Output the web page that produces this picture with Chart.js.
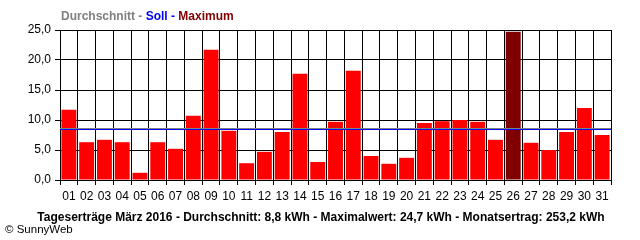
<!DOCTYPE html>
<html>
<head>
<meta charset="utf-8">
<script src="https://cdn.jsdelivr.net/npm/chart.js@4.4.1/dist/chart.umd.min.js"></script>
<style>
    body { margin: 0; background: #fff; }
    #wrap { position: relative; width: 640px; height: 240px; overflow: hidden; }
    #chart { position: absolute; left: 0; top: 0; }
    .txt { position: absolute; white-space: nowrap; font-family: "Liberation Sans", Arial, sans-serif; }
    #legend { left: 61px; top: 9px; font-size: 12px; font-weight: bold; line-height: 14px; }
    #caption { left: 0; width: 642px; text-align: center; top: 210px; font-size: 12px; font-weight: bold; line-height: 15px; }
    #copy { left: 5px; top: 222px; font-size: 11.5px; line-height: 14px; }
</style>
</head>
<body>
<div id="wrap">
    <canvas id="chart" width="640" height="240"></canvas>
    <div class="txt" id="legend"><span style="color:#808080">Durchschnitt - </span><span style="color:#0000ff">Soll - </span><span style="color:#800000">Maximum</span></div>
    <div class="txt" id="caption">Tageserträge März 2016 - Durchschnitt: 8,8 kWh - Maximalwert: 24,7 kWh - Monatsertrag: 253,2 kWh</div>
    <div class="txt" id="copy">© SunnyWeb</div>
</div>
<script>
const days = ["01", "02", "03", "04", "05", "06", "07", "08", "09", "10",
    "11", "12", "13", "14", "15", "16", "17", "18", "19", "20",
    "21", "22", "23", "24", "25", "26", "27", "28", "29", "30", "31"];

// kWh per day
const yields = [11.7, 6.3, 6.7, 6.3, 1.2, 6.3, 5.2, 10.7, 21.7, 8.2,
    2.8, 4.7, 8.0, 17.7, 3.0, 9.7, 18.2, 4.0, 2.7, 3.7,
    9.5, 9.8, 10.0, 9.7, 6.7, 24.7, 6.2, 5.0, 8.0, 12.0, 7.5];

const averageLine = 8.6;  // grey (Durchschnitt)
const targetLine = 8.4;   // blue (Soll)

const yMin = 0;
const yMax = 25;
const yStep = 5;

const maxValue = Math.max(...yields);
const barColors = yields.map(v => v === maxValue ? "#800000" : "#ff0000");

// horizontal reference lines across the plot
const refLines = {
    id: "refLines",
    afterDatasetsDraw(chart) {
        const ctx = chart.ctx;
        const area = chart.chartArea;
        const y = chart.scales.y;
        const lines = [
            { value: averageLine, color: "#808080" },
            { value: targetLine, color: "#0000ff" }
        ];
        ctx.save();
        ctx.lineWidth = 1;
        lines.forEach(l => {
            const py = Math.floor(y.getPixelForValue(l.value)) + 0.5;
            ctx.strokeStyle = l.color;
            ctx.beginPath();
            ctx.moveTo(area.left, py);
            ctx.lineTo(area.right, py);
            ctx.stroke();
        });
        ctx.restore();
    }
};

new Chart(document.getElementById("chart"), {
    type: "bar",
    data: {
        labels: days,
        datasets: [{
            data: yields,
            backgroundColor: barColors,
            borderWidth: 0,
            categoryPercentage: 1,
            barPercentage: 0.84
        }]
    },
    options: {
        responsive: false,
        animation: false,
        events: [],
        layout: {
            padding: { top: 30, right: 29, left: 0, bottom: 0 }
        },
        plugins: {
            legend: { display: false },
            tooltip: { enabled: false }
        },
        scales: {
            x: {
                offset: true,
                afterFit: function (scale) { scale.height = 60; },
                grid: {
                    offset: true,
                    color: "#000",
                    lineWidth: 1,
                    tickLength: 5
                },
                border: { color: "#000", width: 1 },
                ticks: {
                    color: "#000",
                    padding: 4,
                    maxRotation: 0,
                    autoSkip: false,
                    font: { family: "Liberation Sans", size: 12 }
                }
            },
            y: {
                min: yMin,
                max: yMax,
                afterFit: function (scale) { scale.width = 60; },
                grid: {
                    color: "#000",
                    lineWidth: 1,
                    tickLength: 5
                },
                border: { color: "#000", width: 1 },
                ticks: {
                    stepSize: yStep,
                    color: "#000",
                    padding: 4,
                    font: { family: "Liberation Sans", size: 12 },
                    callback: function (v) {
                        return v.toFixed(1).replace(".", ",");
                    }
                }
            }
        }
    },
    plugins: [refLines]
});
</script>
</body>
</html>
